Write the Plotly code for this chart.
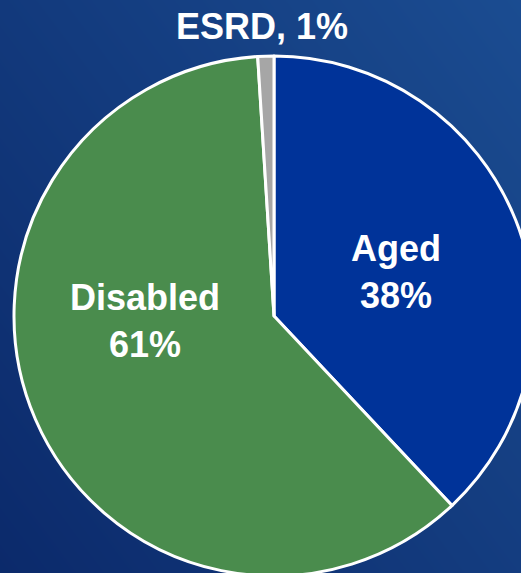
import plotly.graph_objects as go

categories = ["Aged", "Disabled", "ESRD"]
shares = [38, 61, 1]
label_texts = ["Aged<br>38%", "Disabled<br>61%", "ESRD, 1%"]
colors = ["#003399", "#4a8c4d", "#a6a6a6"]

W, H = 548, 600
cx, cy, r = 274, 316, 260

fig = go.Figure()

# gradient background via smoothed heatmap on hidden axes
fig.add_trace(go.Heatmap(
    x=[0, 1], y=[0, 1], z=[[0.0, 0.55], [0.45, 1.0]],
    colorscale=[[0, "#0b296a"], [1, "#1b4d92"]],
    zsmooth="best", showscale=False, hoverinfo="skip",
))

fig.add_trace(go.Pie(
    labels=categories, values=shares,
    marker=dict(colors=colors, line=dict(color="white", width=3)),
    sort=False, direction="clockwise", rotation=0,
    textinfo="none", hoverinfo="label+percent", showlegend=False,
    domain=dict(x=[(cx - r) / W, (cx + r) / W], y=[(H - cy - r) / H, (H - cy + r) / H]),
))

label_pos = [(396, 272), (145, 321), (262, 26)]
for txt, (px, py) in zip(label_texts, label_pos):
    fig.add_annotation(
        text="<b>" + txt + "</b>", x=px / W, y=1 - py / H, xref="paper", yref="paper",
        showarrow=False, xanchor="center", yanchor="middle",
        font=dict(family="Liberation Sans, Arial", size=36, color="white"),
    )

fig.update_layout(
    width=W, height=H, margin=dict(l=0, r=0, t=0, b=0),
    paper_bgcolor="#123a7e", plot_bgcolor="#123a7e",
    xaxis=dict(visible=False, range=[0, 1], domain=[0, 1], fixedrange=True),
    yaxis=dict(visible=False, range=[0, 1], domain=[0, 1], fixedrange=True),
)

fig.write_html(
    "out.html",
    config={"displayModeBar": False},
    post_script="document.body.style.margin='0';document.body.style.overflow='hidden';document.documentElement.style.overflow='hidden';",
)
